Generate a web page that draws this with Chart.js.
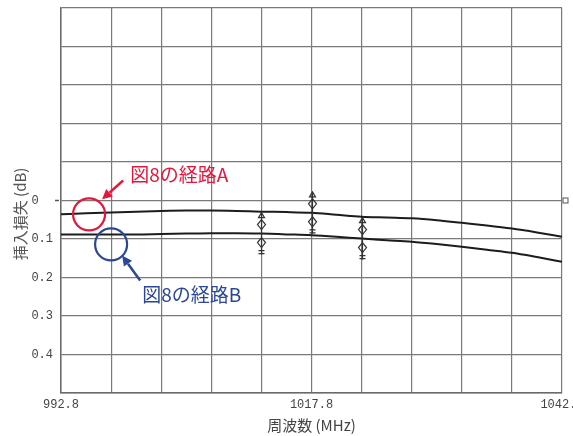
<!DOCTYPE html>
<html>
<head>
<meta charset="utf-8">
<script src="https://cdn.jsdelivr.net/npm/chart.js@4/dist/chart.umd.min.js"></script>
<style>
  html, body { margin: 0; padding: 0; background: #fff; }
  #wrap { width: 573px; height: 436px; }
</style>
</head>
<body>
<div id="wrap"><canvas id="chart" width="573" height="436"></canvas></div>
<script>
// Frequency sweep (MHz) and insertion loss (dB) for the two paths
const frequencies = [992.8, 995.3, 997.8, 1000.3, 1002.8, 1005.3, 1007.8, 1010.3, 1012.8, 1015.3,
                     1017.8, 1020.3, 1022.8, 1025.3, 1027.8, 1030.3, 1032.8, 1035.3, 1037.8, 1040.3, 1042.8];
const pathA = [0.036, 0.033, 0.031, 0.029, 0.027, 0.026, 0.026, 0.027, 0.029, 0.030,
               0.032, 0.037, 0.042, 0.044, 0.046, 0.051, 0.058, 0.065, 0.073, 0.083, 0.094];
const pathB = [0.088, 0.088, 0.088, 0.088, 0.087, 0.086, 0.085, 0.085, 0.086, 0.088,
               0.090, 0.094, 0.099, 0.103, 0.107, 0.113, 0.120, 0.128, 0.136, 0.147, 0.159];

// Axis grid and labels
const gridFrequencies = [992.8, 997.8, 1002.8, 1007.8, 1012.8, 1017.8, 1022.8, 1027.8, 1032.8, 1037.8, 1042.8];
const xLabelFrequencies = [992.8, 1017.8, 1042.8];
const xTickLabels = ['992.8', '1017.8', '1042.8'];
const gridLosses = [-0.5, -0.4, -0.3, -0.2, -0.1, 0, 0.1, 0.2, 0.3, 0.4, 0.5];
const yTickValues = [0, 0.1, 0.2, 0.3, 0.4];
const yTickLabels = ['0', '0.1', '0.2', '0.3', '0.4'];

// Measurement markers sitting on the traces
const markerFrequencies = [1012.8, 1017.8, 1022.8];
const markerLosses = [0.086, 0.032, 0.099];

// Callouts pointing at the two traces (placed in axis units)
const calloutTexts = ['図8の経路A', '図8の経路B'];
const callouts = [
  { color: '#e3173e', cx: 995.6, cy: 0.036, r: 16, tipX: 996.9, tipY: -0.003, tailX: 999.0, tailY: -0.052, textX: 999.7, textY: -0.066 },
  { color: '#2c4796', cx: 997.8, cy: 0.114, r: 16, tipX: 998.9, tipY: 0.143, tailX: 1000.7, tailY: 0.208, textX: 1000.9, textY: 0.245 }
];

const near = (a, b) => Math.abs(a - b) < 1e-6;
const monoFont = { family: "'Liberation Mono', 'DejaVu Sans Mono', monospace", size: 12 };
const cjkFont = "'Noto Sans CJK JP', 'Noto Sans CJK SC', sans-serif";

const overlay = {
  id: 'overlay',
  afterDatasetsDraw(chart) {
    const { ctx, scales: { x, y } } = chart;
    ctx.save();

    // small tick mark at the zero line on both sides
    const y0 = y.getPixelForValue(0);
    ctx.strokeStyle = '#555';
    ctx.lineWidth = 1.5;
    ctx.beginPath();
    ctx.moveTo(x.left - 6, y0); ctx.lineTo(x.left - 2, y0);
    ctx.stroke();
    ctx.lineWidth = 1;
    ctx.strokeRect(x.right + 1, y0 - 2.5, 5, 5);

    // marker glyphs
    ctx.strokeStyle = '#333';
    ctx.lineWidth = 1.2;
    markerFrequencies.forEach((f, i) => {
      const px = Math.round(x.getPixelForValue(f)) + 0.5;
      const py = y.getPixelForValue(markerLosses[i]);
      ctx.beginPath();
      ctx.moveTo(px, py - 21); ctx.lineTo(px, py + 21);
      ctx.stroke();
      // upper triangle + diamond
      ctx.beginPath();
      ctx.moveTo(px, py - 21); ctx.lineTo(px - 3, py - 16); ctx.lineTo(px + 3, py - 16); ctx.closePath();
      ctx.stroke();
      ctx.beginPath();
      ctx.moveTo(px, py - 14); ctx.lineTo(px - 4, py - 9); ctx.lineTo(px, py - 4); ctx.lineTo(px + 4, py - 9); ctx.closePath();
      ctx.stroke();
      // lower diamond + bars
      ctx.beginPath();
      ctx.moveTo(px, py + 4); ctx.lineTo(px - 4, py + 9); ctx.lineTo(px, py + 14); ctx.lineTo(px + 4, py + 9); ctx.closePath();
      ctx.stroke();
      ctx.beginPath();
      ctx.moveTo(px - 3, py + 17); ctx.lineTo(px + 3, py + 17);
      ctx.moveTo(px - 3, py + 20); ctx.lineTo(px + 3, py + 20);
      ctx.stroke();
    });

    // y axis title
    ctx.fillStyle = '#555';
    ctx.font = `15px ${cjkFont}`;
    ctx.translate(20, y.getPixelForValue(0.035));
    ctx.rotate(-Math.PI / 2);
    ctx.textAlign = 'center';
    ctx.textBaseline = 'middle';
    ctx.fillText('挿入損失 (dB)', 0, 0);
    ctx.setTransform(1, 0, 0, 1, 0, 0);

    // callouts
    callouts.forEach((c, i) => {
      const cx = x.getPixelForValue(c.cx), cy = y.getPixelForValue(c.cy);
      const tx = x.getPixelForValue(c.tipX), ty = y.getPixelForValue(c.tipY);
      const sx = x.getPixelForValue(c.tailX), sy = y.getPixelForValue(c.tailY);
      ctx.strokeStyle = c.color;
      ctx.fillStyle = c.color;
      ctx.lineWidth = 2.2;
      ctx.beginPath();
      ctx.arc(cx, cy, c.r, 0, Math.PI * 2);
      ctx.stroke();
      const ang = Math.atan2(ty - sy, tx - sx);
      const hl = 10, hw = 5;
      const bx = tx - hl * Math.cos(ang), by = ty - hl * Math.sin(ang);
      ctx.lineWidth = 2.5;
      ctx.beginPath();
      ctx.moveTo(sx, sy); ctx.lineTo(bx, by);
      ctx.stroke();
      ctx.beginPath();
      ctx.moveTo(tx, ty);
      ctx.lineTo(bx + hw * Math.sin(ang), by - hw * Math.cos(ang));
      ctx.lineTo(bx - hw * Math.sin(ang), by + hw * Math.cos(ang));
      ctx.closePath();
      ctx.fill();
      ctx.font = `19px ${cjkFont}`;
      ctx.textAlign = 'left';
      ctx.textBaseline = 'middle';
      ctx.fillText(calloutTexts[i], x.getPixelForValue(c.textX), y.getPixelForValue(c.textY));
    });

    ctx.restore();
  }
};

const toPoints = (vals) => frequencies.map((f, i) => ({ x: f, y: vals[i] }));

new Chart(document.getElementById('chart'), {
  type: 'line',
  data: {
    datasets: [
      { label: '経路A', data: toPoints(pathA), borderColor: '#1c1c1c', borderWidth: 2, pointRadius: 0, cubicInterpolationMode: 'monotone' },
      { label: '経路B', data: toPoints(pathB), borderColor: '#1c1c1c', borderWidth: 2, pointRadius: 0, cubicInterpolationMode: 'monotone' }
    ]
  },
  options: {
    responsive: false,
    animation: false,
    devicePixelRatio: 1,
    layout: { padding: { top: 8, right: 11, left: 0, bottom: 0 } },
    plugins: { legend: { display: false }, tooltip: { enabled: false } },
    scales: {
      x: {
        type: 'linear',
        min: 992.8,
        max: 1042.8,
        afterBuildTicks: (s) => { s.ticks = gridFrequencies.map(v => ({ value: v })); },
        afterFit: (s) => { s.height = 43; s.paddingLeft = 0; s.paddingRight = 0; },
        grid: { color: '#7a7a7a', lineWidth: 1.2, drawTicks: false },
        border: { color: '#6a6a6a', width: 1.5 },
        ticks: {
          autoSkip: false,
          maxRotation: 0,
          padding: 5,
          color: '#444',
          font: monoFont,
          callback: (v) => {
            const k = xLabelFrequencies.findIndex(f => near(f, v));
            return k >= 0 ? xTickLabels[k] : '';
          }
        },
        title: {
          display: true,
          text: '周波数 (MHz)',
          color: '#444',
          font: { family: cjkFont, size: 15 },
          padding: { top: 0, bottom: 2 }
        }
      },
      y: {
        type: 'linear',
        reverse: true,
        min: -0.5,
        max: 0.5,
        afterBuildTicks: (s) => { s.ticks = gridLosses.map(v => ({ value: v })); },
        afterFit: (s) => { s.width = 61; s.paddingTop = 0; s.paddingBottom = 0; },
        grid: { color: '#7a7a7a', lineWidth: 1.2, drawTicks: false },
        border: { color: '#6a6a6a', width: 1.5 },
        ticks: {
          autoSkip: false,
          padding: 8,
          color: '#444',
          font: monoFont,
          callback: (v) => {
            const k = yTickValues.findIndex(t => near(t, v));
            return k >= 0 ? yTickLabels[k].padEnd(3, ' ') : '';
          }
        }
      }
    }
  },
  plugins: [overlay]
});
</script>
</body>
</html>
